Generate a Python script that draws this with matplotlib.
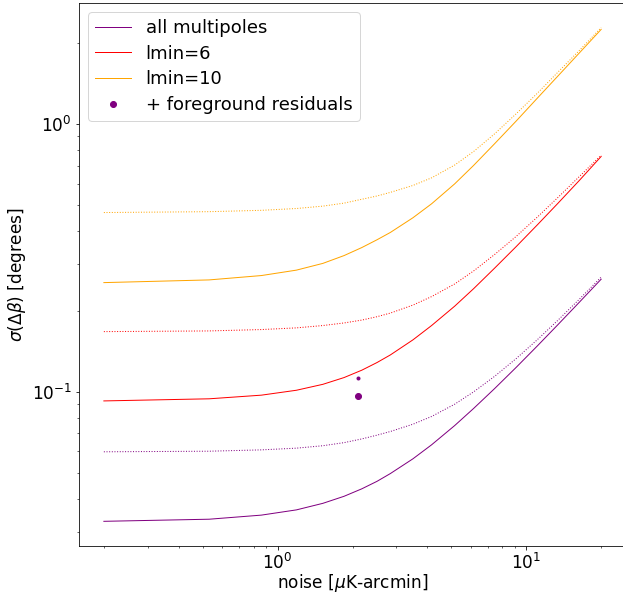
import matplotlib
matplotlib.use("Agg")
import matplotlib.pyplot as plt

# noise levels [muK-arcmin]
noise = [0.2, 0.53, 0.86, 1.19, 1.52, 1.85, 2.18, 2.51, 2.84, 3.5, 4.16,
         5.15, 6.14, 7.46, 9.11, 11.09, 13.4, 16.37, 20.0]

# sigma(Delta beta) [deg], solid = no foregrounds, dotted = with residuals
all_solid = [0.0329, 0.0335, 0.0347, 0.0363, 0.0384, 0.0408, 0.0435, 0.0464,
             0.0496, 0.0563, 0.0635, 0.0749, 0.0868, 0.103, 0.1236, 0.1487,
             0.1783, 0.2166, 0.2636]
all_dot = [0.0598, 0.0601, 0.0608, 0.0617, 0.0630, 0.0647, 0.0668, 0.0690,
           0.0712, 0.0758, 0.0810, 0.0900, 0.1001, 0.1144, 0.1333, 0.1569,
           0.1852, 0.2223, 0.2683]
l6_solid = [0.0926, 0.0943, 0.0973, 0.1015, 0.1068, 0.1132, 0.1206, 0.1288,
            0.1375, 0.1565, 0.177, 0.209, 0.243, 0.290, 0.349, 0.421, 0.506,
            0.617, 0.757]
l6_dot = [0.168, 0.169, 0.171, 0.1735, 0.177, 0.181, 0.1855, 0.191, 0.197,
          0.211, 0.227, 0.253, 0.283, 0.326, 0.381, 0.450, 0.532, 0.638,
          0.765]
l10_solid = [0.256, 0.262, 0.272, 0.285, 0.302, 0.323, 0.346, 0.370, 0.394,
             0.447, 0.504, 0.598, 0.701, 0.845, 1.027, 1.251, 1.511, 1.846,
             2.256]
l10_dot = [0.4675, 0.471, 0.4765, 0.484, 0.494, 0.507, 0.524, 0.539, 0.556,
           0.590, 0.630, 0.703, 0.790, 0.920, 1.093, 1.305, 1.562, 1.886,
           2.29]

# foreground residual points
fg_x = [2.1, 2.1]
fg_y = [0.0962, 0.113]

plt.rcParams['font.size'] = 17

fig = plt.figure(figsize=(623/72, 596/72), dpi=72)
ax = fig.add_axes([79/623, 50/596, 547/623, 543/596])

ax.plot(noise, all_solid, color='purple', lw=1, label='all multipoles')
ax.plot(noise, all_dot, color='purple', lw=1, ls=':')
ax.plot(noise, l6_solid, color='red', lw=1, label='lmin=6')
ax.plot(noise, l6_dot, color='red', lw=1, ls=':')
ax.plot(noise, l10_solid, color='orange', lw=1, label='lmin=10')
ax.plot(noise, l10_dot, color='orange', lw=1, ls=':')
ax.plot(fg_x[0], fg_y[0], 'o', color='purple', ms=6,
        label='+ foreground residuals')
ax.plot(fg_x[1], fg_y[1], 'o', color='purple', ms=3)

ax.set_xscale('log')
ax.set_yscale('log')
ax.set_xlabel(r"noise [$\mu$K-arcmin]", labelpad=-1)
ax.set_ylabel(r"$\sigma(\Delta\beta)$ [degrees]")
ax.legend(loc='upper left', fontsize=18, labelspacing=0.42)

fig.savefig("out.png", dpi=72)
